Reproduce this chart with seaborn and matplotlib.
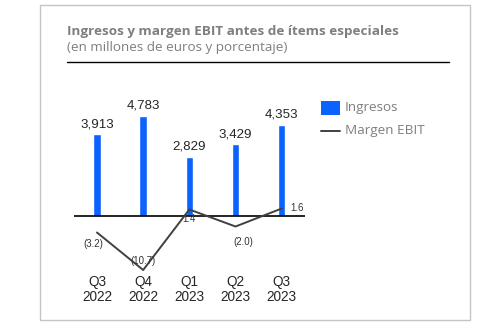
import numpy as np
import pandas as pd
import matplotlib
matplotlib.use("Agg")
import matplotlib.pyplot as plt
from matplotlib.patches import Rectangle
from matplotlib.lines import Line2D
import seaborn as sns

categories = ["Q3\n2022", "Q4\n2022", "Q1\n2023", "Q2\n2023", "Q3\n2023"]
ingresos = [3913, 4783, 2829, 3429, 4353]
margen_ebit = [-3.2, -10.7, 1.4, -2.0, 1.6]
ingresos_labels = ["3,913", "4,783", "2,829", "3,429", "4,353"]
margen_labels = ["(3.2)", "(10.7)", "1.4", "(2.0)", "1.6"]

sns.set_theme(style="white")
plt.rcParams["font.family"] = ["Liberation Sans", "DejaVu Sans"]

W, H = 484, 331
fig = plt.figure(figsize=(W / 100, H / 100), dpi=100)

def fx(px):
    return px / W

def fy(py):
    return 1 - py / H

# axes placement (pixels)
L, R, T, B = 73.9, 304.8, 90, 272
ax = fig.add_axes([fx(L), fy(B), (R - L) / W, (B - T) / H])

df = pd.DataFrame({"cat": categories, "ingresos": ingresos, "margen": margen_ebit})
blue = "#0A62FF"
sns.barplot(data=df, x="cat", y="ingresos", color=blue, width=0.16,
            saturation=1, ax=ax)
ax.set_xlim(-0.5, 4.5)
ax.set_ylim(-2643, 6024)
ax.axhline(0, color="black", lw=1.2, zorder=5)
for i, (v, lab) in enumerate(zip(ingresos, ingresos_labels)):
    ax.annotate(lab, (i, v), xytext=(0, 3), textcoords="offset points",
                ha="center", va="bottom", fontsize=9.6, color="#262626")

ax2 = ax.twinx()
sns.lineplot(data=df, x="cat", y="margen", sort=False, color="#404040",
             lw=1.4, ax=ax2, legend=False)
ax2.set_ylim(-11.1, 25.3)
ax2.set_xlim(-0.5, 4.5)

offsets = [(-3, -8), (0, 6.5), (0, -6.5), (5.4, -10.8), (11, 0.7)]
for i, (v, lab, off) in enumerate(zip(margen_ebit, margen_labels, offsets)):
    ax2.annotate(lab, (i, v), xytext=off, textcoords="offset points",
                 ha="center", va="center", fontsize=7, color="#333333")

for a in (ax, ax2):
    for s in a.spines.values():
        s.set_visible(False)
    a.set_yticks([])
    a.set_ylabel("")
    a.set_xlabel("")
ax.tick_params(axis="x", length=0, pad=2, labelsize=9.8, labelcolor="#262626")
for t in ax.get_xticklabels():
    t.set_linespacing(1.15)
ax2.tick_params(axis="x", length=0)

# border
fig.add_artist(Rectangle((fx(40), fy(320)), (470 - 40) / W, (320 - 5) / H,
                         transform=fig.transFigure, fill=False,
                         edgecolor="#c4c4c4", lw=1.0))
# title
fig.text(fx(67), fy(31.5), "Ingresos y margen EBIT antes de ítems especiales",
         fontsize=9.7, fontweight="bold", color="#7f7f7f", va="center",
         ha="left", family=["Open Sans", "DejaVu Sans"])
fig.text(fx(67), fy(47), "(en millones de euros y porcentaje)",
         fontsize=9.7, color="#7f7f7f", va="center", ha="left",
         family=["Open Sans", "DejaVu Sans"])
fig.add_artist(Line2D([fx(67), fx(449)], [fy(61.7), fy(61.7)],
                      transform=fig.transFigure, color="black", lw=1.0))

# legend
fig.add_artist(Rectangle((fx(321), fy(115)), 19 / W, 14 / H,
                         transform=fig.transFigure, color=blue, lw=0))
fig.add_artist(Line2D([fx(321), fx(340)], [fy(130.5), fy(130.5)],
                      transform=fig.transFigure, color="#404040", lw=1.4))
fig.text(fx(345), fy(107), "Ingresos", fontsize=9.7, color="#7f7f7f",
         va="center", ha="left", family=["Open Sans", "DejaVu Sans"])
fig.text(fx(345), fy(130), "Margen EBIT", fontsize=9.7, color="#7f7f7f",
         va="center", ha="left", family=["Open Sans", "DejaVu Sans"])

fig.savefig("out.png", dpi=100)
